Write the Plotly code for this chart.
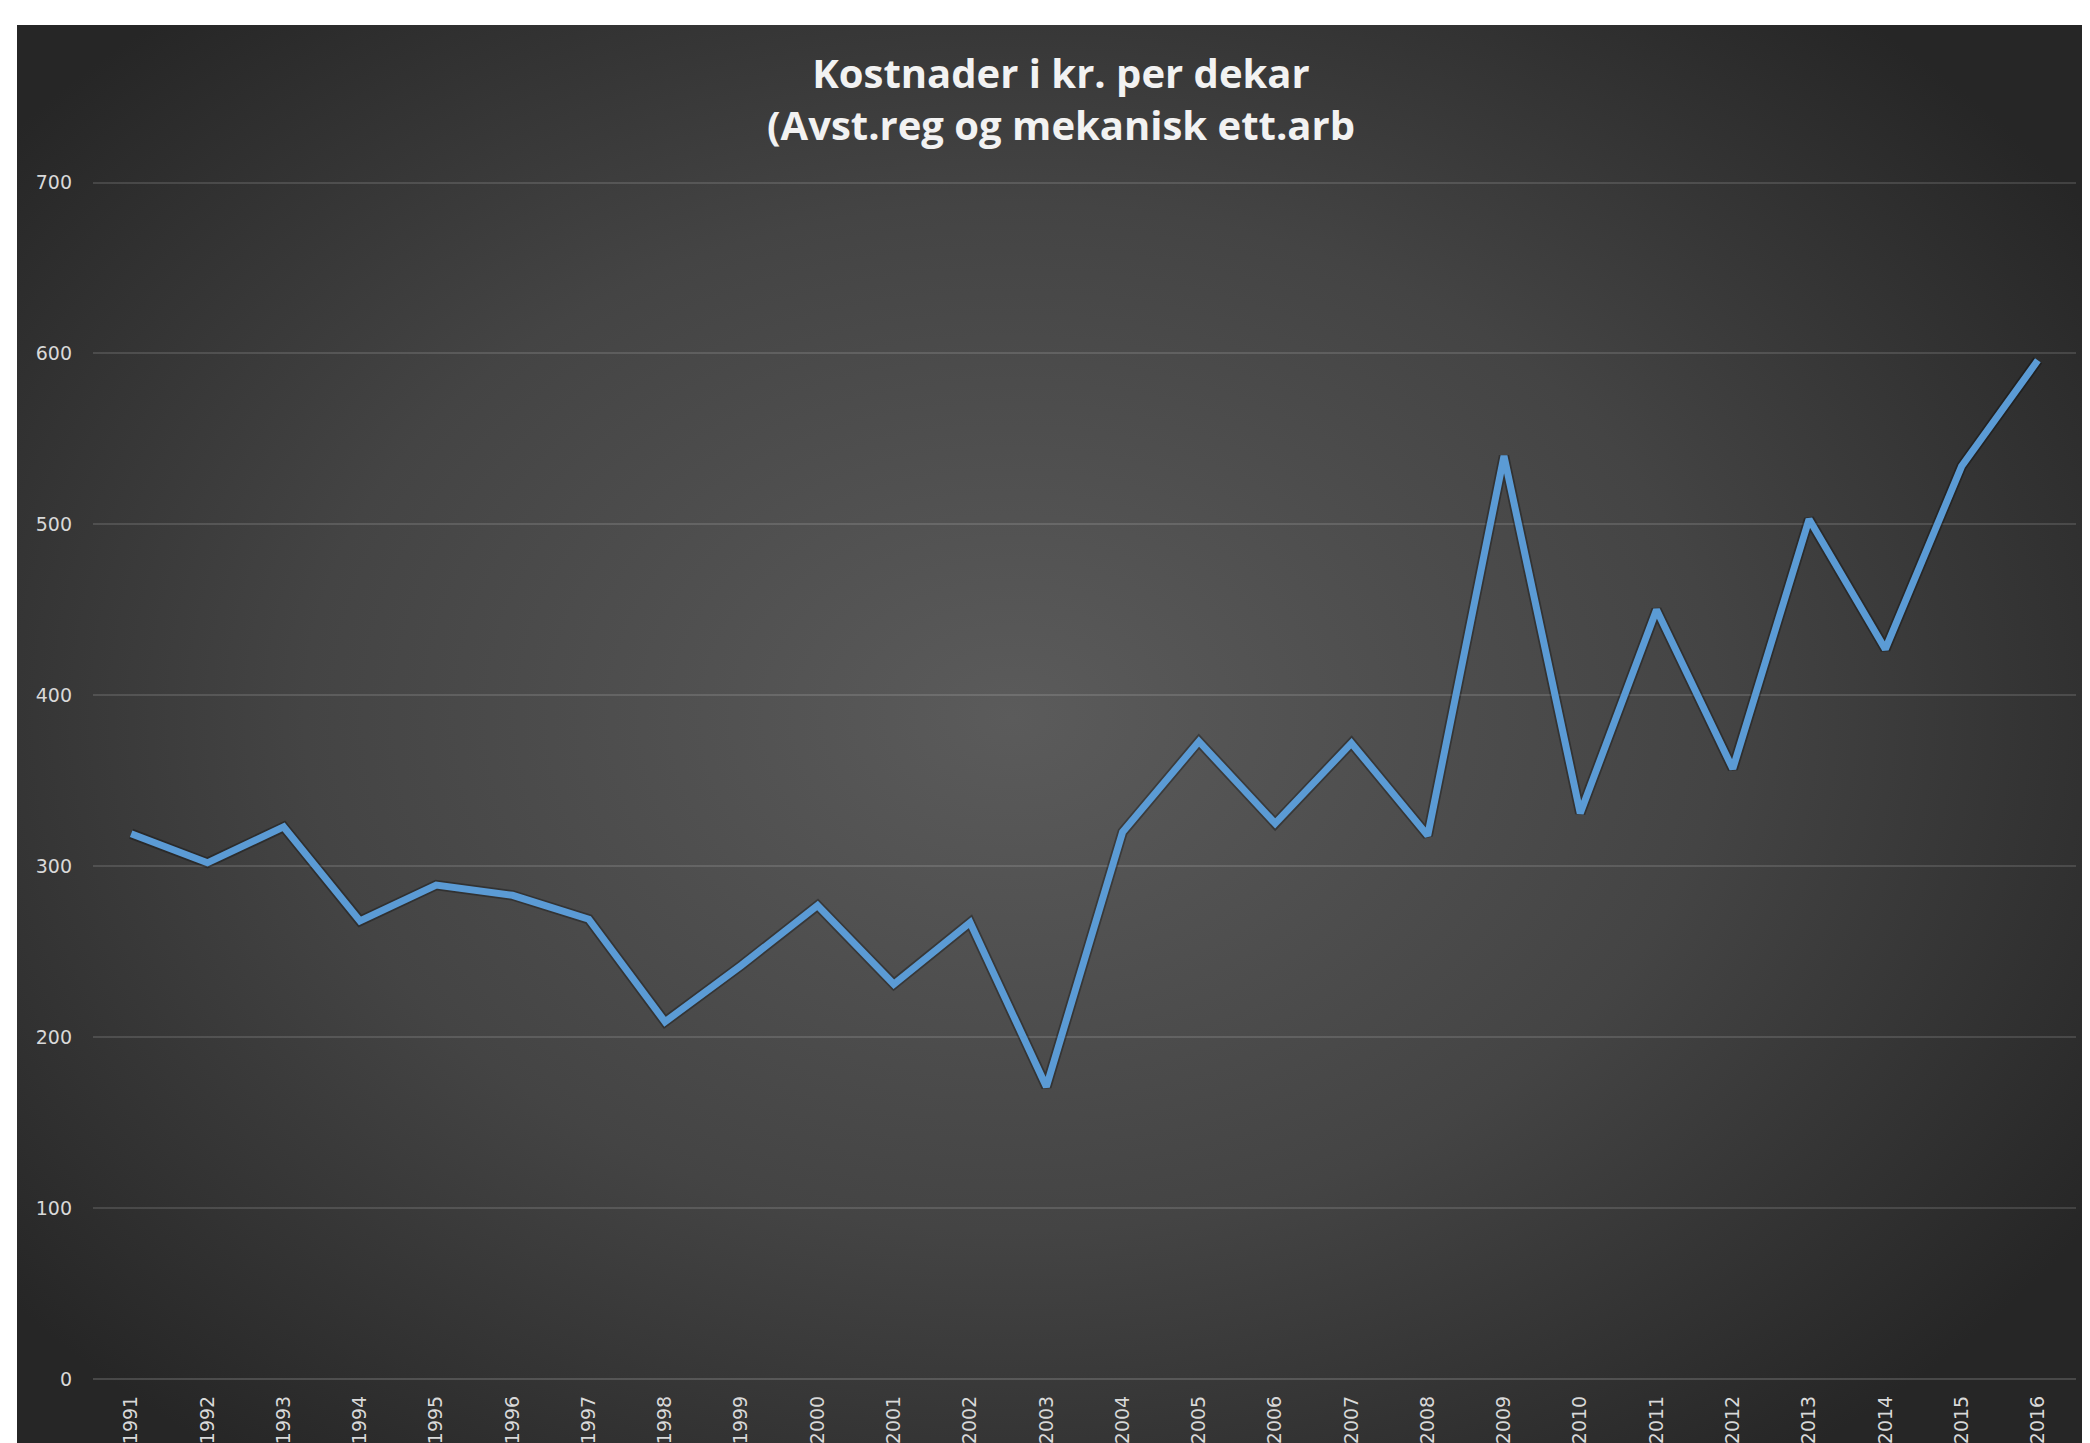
import base64
import plotly.graph_objects as go

years = [str(y) for y in range(1991, 2017)]
kostnader = [319, 302, 323, 268, 289, 283, 269, 209, 242, 277, 231, 267, 171,
             320, 373, 325, 372, 318, 540, 331, 450, 357, 503, 427, 534, 596]
y_ticks = [0, 100, 200, 300, 400, 500, 600, 700]

# page has an 8px body margin, so the figure is 8px smaller than the window
W, H = 2082, 1435
L, R, T, B = 85, 14, 166, 64
pw, ph = W - L - R, H - T - B

# radial gradient background, as in the Excel style
svg = ('<svg xmlns="http://www.w3.org/2000/svg" width="2073" height="1505" '
       'viewBox="0 0 2073 1505" preserveAspectRatio="none"><defs>'
       '<radialGradient id="g" cx="0.48" cy="0.46" r="0.62">'
       '<stop offset="0" stop-color="#5b5b5b"/>'
       '<stop offset="0.55" stop-color="#444444"/>'
       '<stop offset="1" stop-color="#262626"/></radialGradient></defs>'
       '<rect width="2073" height="1505" fill="url(#g)"/></svg>')
bg_src = "data:image/svg+xml;base64," + base64.b64encode(svg.encode()).decode()

fig = go.Figure()
fig.add_trace(go.Scatter(x=years, y=kostnader, mode='lines',
                         line=dict(color='rgba(0,0,0,0.3)', width=10.5),
                         hoverinfo='skip', showlegend=False))
fig.add_trace(go.Scatter(x=years, y=kostnader, mode='lines',
                         line=dict(color='#5b9bd5', width=7),
                         showlegend=False))

fig.add_layout_image(dict(
    source=bg_src, xref='paper', yref='paper',
    x=(9 - L) / pw, y=(H - B - 17) / ph,
    sizex=(W - 9) / pw, sizey=1505 / ph,
    sizing='stretch', xanchor='left', yanchor='top', layer='below'))

fig.add_annotation(
    text='Kostnader i kr. per dekar<br>(Avst.reg og mekanisk ett.arb',
    xref='paper', yref='paper',
    x=(1053 - L) / pw, y=(H - B - 90) / ph,
    xanchor='center', yanchor='middle', showarrow=False,
    font=dict(family='Open Sans', size=40, color='#f2f2f2', weight='bold'))

fig.update_layout(
    width=W, height=H,
    margin=dict(l=L, r=R, t=T, b=B),
    paper_bgcolor='white', plot_bgcolor='rgba(0,0,0,0)',
    xaxis=dict(type='category', range=[-0.5, len(years) - 0.5], tickangle=-90,
               showgrid=False, showline=False, ticks='', ticklabelstandoff=12,
               automargin=False,
               tickfont=dict(family='DejaVu Sans', size=19, color='#d9d9d9')),
    yaxis=dict(range=[0, 705], tickvals=y_ticks, showline=False, ticks='',
               ticklabelstandoff=20, automargin=False,
               gridcolor='rgba(255,255,255,0.13)', gridwidth=1.5,
               zeroline=True, zerolinecolor='rgba(255,255,255,0.16)', zerolinewidth=2,
               tickfont=dict(family='DejaVu Sans', size=19, color='#d9d9d9')),
)

fig.write_html("out.html")
